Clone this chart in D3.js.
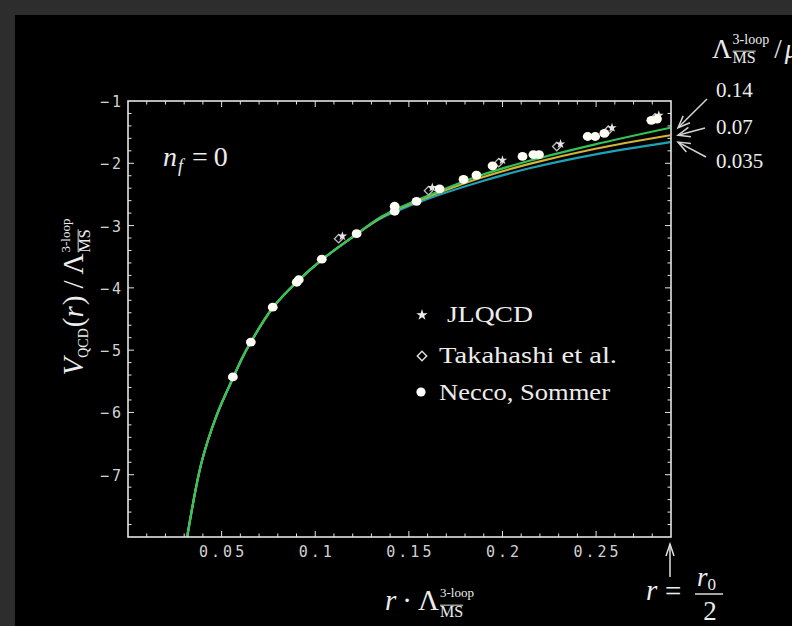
<!DOCTYPE html>
<html><head><meta charset="utf-8">
<script src="https://cdn.jsdelivr.net/npm/d3@7"></script>
<style>html,body{margin:0;padding:0;background:#2d2d2d;overflow:hidden}</style>
</head><body>
<svg id="c" width="792" height="626"></svg>
<script>
// ---------- data ----------
const rGrid   = [0.0316,0.0393,0.0473,0.0565,0.0606,0.0656,0.0773,0.090,0.1035,0.122,0.134,0.1424,0.161,0.1877,0.2144,0.249,0.2896];
const V_014   = [-8.00,-6.80,-6.05,-5.42,-5.15,-4.87,-4.32,-3.91,-3.55,-3.14,-2.88,-2.75,-2.51,-2.20,-1.96,-1.70,-1.43];
const V_007   = [-8.00,-6.80,-6.05,-5.42,-5.15,-4.87,-4.32,-3.91,-3.55,-3.14,-2.89,-2.76,-2.53,-2.24,-2.01,-1.77,-1.55];
const V_0035  = [-8.00,-6.80,-6.05,-5.42,-5.15,-4.87,-4.32,-3.91,-3.55,-3.14,-2.90,-2.78,-2.56,-2.30,-2.08,-1.86,-1.66];
const curveLabels = ["0.14","0.07","0.035"];

const neccoR = [0.056,0.0656,0.0773,0.0901,0.0912,0.1035,0.1221,0.1424,0.1424,0.1541,0.1664,0.1792,0.1861,0.1947,0.2107,0.2165,0.2195,0.2455,0.2495,0.2544,0.2795,0.2825];
const neccoV = [-5.43,-4.87,-4.31,-3.91,-3.87,-3.54,-3.13,-2.69,-2.77,-2.61,-2.41,-2.26,-2.19,-2.04,-1.89,-1.86,-1.86,-1.57,-1.57,-1.52,-1.31,-1.29];
const takaR  = [0.1125,0.1605,0.1980,0.2290,0.2565,0.2815];
const takaV  = [-3.21,-2.44,-1.99,-1.73,-1.47,-1.27];
const jlqcdR = [0.1145,0.1625,0.2000,0.2310,0.2585,0.2835];
const jlqcdV = [-3.17,-2.39,-1.95,-1.69,-1.43,-1.23];

const xTicks = [0.05,0.1,0.15,0.2,0.25];
const yTicks = [-1,-2,-3,-4,-5,-6,-7];
const legendNames = ["JLQCD","Takahashi et al.","Necco, Sommer"];

// ---------- setup ----------
const SERIF = "'Liberation Serif','Times New Roman',serif";
const MONO = "'DejaVu Sans Mono',monospace";
const TXT = "#ececec";
const svg = d3.select("#c");
svg.append("rect").attr("x",15).attr("y",15).attr("width",777).attr("height",611).attr("fill","#000");

const x = d3.scaleLinear().domain([0,0.29]).range([128,671]);
const y = d3.scaleLinear().domain([-8,-1]).range([537,101]);

svg.append("clipPath").attr("id","clip").append("rect")
  .attr("x",128).attr("y",101).attr("width",543).attr("height",436);

// ---------- curves ----------
const series = [
  {v:V_0035, color:"#1fa2b8"},
  {v:V_007,  color:"#d2b437"},
  {v:V_014,  color:"#33c25a"}
];
const line = d3.line().x(d=>x(d[0])).y(d=>y(d[1])).curve(d3.curveCatmullRom.alpha(0.5));
const cg = svg.append("g").attr("clip-path","url(#clip)");
series.forEach(s=>{
  cg.append("path").datum(rGrid.map((r,i)=>[r,s.v[i]]))
    .attr("d",line).attr("fill","none").attr("stroke",s.color).attr("stroke-width",2.2);
});

// ---------- data points ----------
const pg = svg.append("g").attr("clip-path","url(#clip)");
const diamond = d3.symbol(d3.symbolSquare, 36)();
const star = d3.symbol(d3.symbolStar, 28)();
takaR.forEach((r,i)=>{
  pg.append("path").attr("d",diamond)
    .attr("transform",`translate(${x(r)},${y(takaV[i])}) rotate(45)`)
    .attr("fill","none").attr("stroke","#bdbdbd").attr("stroke-width",1.3);
});
jlqcdR.forEach((r,i)=>{
  pg.append("path").attr("d",star)
    .attr("transform",`translate(${x(r)},${y(jlqcdV[i])})`)
    .attr("fill","#e6e6e6");
});
neccoR.forEach((r,i)=>{
  pg.append("ellipse").attr("cx",x(r)).attr("cy",y(neccoV[i]))
    .attr("rx",4.9).attr("ry",4.4).attr("fill","#fffdf4");
});

// ---------- frame & ticks ----------
const FR = "#e4e4e4";
svg.append("rect").attr("x",128).attr("y",101).attr("width",543).attr("height",436)
  .attr("fill","none").attr("stroke",FR).attr("stroke-width",1.6);
const tg = svg.append("g").attr("stroke",FR).attr("stroke-width",1);
d3.range(1,29).forEach(k=>{
  const v = k/100, major = k%5===0, L = major?6:3.5;
  tg.append("line").attr("x1",x(v)).attr("x2",x(v)).attr("y1",537).attr("y2",537-L);
  tg.append("line").attr("x1",x(v)).attr("x2",x(v)).attr("y1",101).attr("y2",101+L);
});
d3.range(1,35).forEach(k=>{
  const v = -8 + k*0.2, major = k%5===0, L = major?6:3.5;
  tg.append("line").attr("y1",y(v)).attr("y2",y(v)).attr("x1",128).attr("x2",128+L);
  tg.append("line").attr("y1",y(v)).attr("y2",y(v)).attr("x1",671).attr("x2",671-L);
});
const fmt = d3.format("~g");
xTicks.forEach(v=>{
  svg.append("text").attr("x",x(v)+1.5).attr("y",557).attr("text-anchor","middle")
    .attr("font-family",MONO).attr("font-size",15).attr("letter-spacing",3)
    .attr("fill","#d2d2d2").text(fmt(v));
});
yTicks.forEach(v=>{
  svg.append("text").attr("x",124).attr("y",y(v)+6).attr("text-anchor","end")
    .attr("font-family",MONO).attr("font-size",15).attr("letter-spacing",3)
    .attr("fill","#d2d2d2").text(fmt(v));
});

// ---------- math label helper ----------
function mathLabel(parent, pieces){
  const g = parent.append("g");
  let cx = 0;
  const place = (p, px)=>{
    const t = g.append("text").attr("x",px).attr("y",p.dy||0)
      .attr("font-family",SERIF).attr("font-size",p.fs)
      .attr("font-style",p.it?"italic":"normal").attr("fill",TXT).text(p.t);
    const w = t.node().getComputedTextLength();
    if(p.ov){
      const oy = (p.dy||0) - p.fs*0.74;
      g.append("line").attr("x1",px).attr("x2",px+w).attr("y1",oy).attr("y2",oy)
        .attr("stroke",TXT).attr("stroke-width",Math.max(0.8,p.fs*0.06));
    }
    return w + (p.dx||0);
  };
  pieces.forEach(p=>{
    if(p.stack){
      const ws = p.stack.map(s=>place(s, cx));
      cx += Math.max(...ws) + (p.gap||0);
    } else {
      cx += place(p, cx) + (p.gap||0);
    }
  });
  return {g, width:cx};
}
const lamMS = (fsup, fsub, up, dn)=>({stack:[{t:"3-loop",fs:fsup,dy:-up},{t:"MS",fs:fsub,dy:dn,ov:true}]});

// y-axis title
{
  const holder = svg.append("g").attr("transform","translate(83,297) rotate(-90)");
  const m = mathLabel(holder,[
    {t:"V",fs:29,it:true,gap:0},
    {t:"QCD",fs:14,dy:5,gap:1},
    {t:"(",fs:29},{t:"r",fs:29,it:true,gap:1},{t:")",fs:29,gap:7},
    {t:"/",fs:29,gap:6},
    {t:"Λ",fs:29,gap:1},
    lamMS(13,16,13,7)
  ]);
  m.g.attr("transform",`translate(${-m.width/2},0)`);
}
// x-axis title
{
  const holder = svg.append("g").attr("transform","translate(385,610)");
  mathLabel(holder,[
    {t:"r",fs:29,it:true,gap:6},
    {t:"·",fs:29,gap:6},
    {t:"Λ",fs:29,gap:1},
    lamMS(13,16,13,7)
  ]);
}
// top-right header
{
  const holder = svg.append("g").attr("transform","translate(712,58)");
  mathLabel(holder,[
    {t:"Λ",fs:27,gap:1},
    {stack:[{t:"3-loop",fs:14,dy:-14},{t:"MS",fs:16,dy:5,ov:true}],gap:5},
    {t:"/",fs:27,gap:3},
    {t:"μ",fs:27,it:true}
  ]);
}
// n_f = 0
{
  const holder = svg.append("g").attr("transform","translate(163,166)");
  mathLabel(holder,[
    {t:"n",fs:28,it:true,gap:1},
    {t:"f",fs:18,it:true,dy:6,gap:9},
    {t:"=",fs:28,gap:6},
    {t:"0",fs:28}
  ]);
}
// r = r0/2
{
  svg.append("text").attr("x",646).attr("y",600).attr("font-family",SERIF).attr("font-size",29)
    .attr("font-style","italic").attr("fill",TXT).text("r");
  svg.append("text").attr("x",665).attr("y",601).attr("font-family",SERIF).attr("font-size",29)
    .attr("fill",TXT).text("=");
  const holder = svg.append("g").attr("transform","translate(697,586)");
  mathLabel(holder,[{t:"r",fs:27,it:true,gap:0},{t:"0",fs:17,dy:4}]);
  svg.append("line").attr("x1",695).attr("x2",723).attr("y1",594).attr("y2",594)
    .attr("stroke",TXT).attr("stroke-width",1.4);
  svg.append("text").attr("x",710).attr("y",620).attr("text-anchor","middle")
    .attr("font-family",SERIF).attr("font-size",27).attr("fill",TXT).text("2");
  const ax = x(0.29)-1;
  const ag = svg.append("g").attr("stroke","#e0e0e0").attr("stroke-width",1.5).attr("fill","none");
  ag.append("line").attr("x1",ax).attr("x2",ax).attr("y1",577).attr("y2",544);
  ag.append("path").attr("d",`M${ax-4},${556} L${ax},${544} L${ax+4},${556}`);
}

// ---------- curve labels and arrows ----------
const labY = [97,134,168];
const tails = [[707,99],[705,128],[706,157]];
const ends = [V_014, V_007, V_0035].map(v=>v[v.length-1]);
curveLabels.forEach((t,i)=>{
  svg.append("text").attr("x",716).attr("y",labY[i]).attr("font-family",SERIF)
    .attr("font-size",21).attr("fill",TXT).text(t);
  const hx = x(0.29)+7, hy = y(ends[i]);
  const [tx,ty] = tails[i];
  const ang = Math.atan2(ty-hy, tx-hx);
  const L = 13, sp = 0.38;
  const p1 = [hx+L*Math.cos(ang+sp), hy+L*Math.sin(ang+sp)];
  const p2 = [hx+L*Math.cos(ang-sp), hy+L*Math.sin(ang-sp)];
  const ag = svg.append("g").attr("stroke","#d4d4d4").attr("stroke-width",1.5).attr("fill","none");
  ag.append("line").attr("x1",tx).attr("y1",ty).attr("x2",hx).attr("y2",hy);
  ag.append("path").attr("d",`M${p1[0]},${p1[1]} L${hx},${hy} L${p2[0]},${p2[1]}`);
});

// ---------- legend ----------
const legY = [322, 363, 400];
const legW = [86, 178, 171];
const legX = [447, 439, 439];
legendNames.forEach((n,i)=>{
  svg.append("text").attr("x",legX[i]).attr("y",legY[i]).attr("font-family",SERIF)
    .attr("font-size",24).attr("fill",TXT)
    .attr("textLength",legW[i]).attr("lengthAdjust","spacingAndGlyphs").text(n);
});
svg.append("path").attr("d",d3.symbol(d3.symbolStar,40)())
  .attr("transform","translate(422,315)").attr("fill","#eee");
svg.append("path").attr("d",d3.symbol(d3.symbolSquare,44)())
  .attr("transform","translate(422,356) rotate(45)").attr("fill","none")
  .attr("stroke","#e0e0e0").attr("stroke-width",1.4);
svg.append("circle").attr("cx",421).attr("cy",392).attr("r",4.6).attr("fill","#fff");
</script>
</body></html>
